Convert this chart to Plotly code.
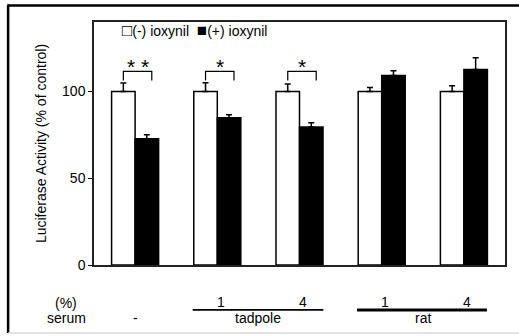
import plotly.graph_objects as go

# ---- data ----
groups = [0, 1, 2, 3, 4]
neg_name = "(-) ioxynil"
pos_name = "(+) ioxynil"
neg_values = [100, 100, 100, 100, 100]
neg_err = [4.8, 5.0, 4.3, 2.3, 3.3]
pos_values = [72.7, 84.8, 79.5, 109.2, 112.7]
pos_err = [2.3, 1.8, 2.4, 2.7, 6.7]
y_ticks = [0, 50, 100]
sig_groups = [0, 1, 2]
sig_labels = ["* *", "*", "*"]
pct_labels = ["", "1", "4", "1", "4"]
serum_labels = ["-", "tadpole", "rat"]
serum_label_pos = [0, 1.5, 3.5]

FONT = "Liberation Sans, Arial, sans-serif"
BW = 0.286  # bar width in category units
off = BW / 2

fig = go.Figure()
fig.add_trace(go.Bar(
    x=groups, y=neg_values, name=neg_name,
    marker=dict(color="white", line=dict(color="black", width=1.5)),
    error_y=dict(type="data", array=neg_err, arrayminus=[0]*5, symmetric=False,
                 color="black", thickness=1.5, width=3),
))
fig.add_trace(go.Bar(
    x=groups, y=pos_values, name=pos_name,
    marker=dict(color="black", line=dict(color="black", width=1.5)),
    error_y=dict(type="data", array=pos_err, arrayminus=[0]*5, symmetric=False,
                 color="black", thickness=1.5, width=3),
))

shapes = []
annotations = []

def txt(x, y, text, xref="paper", yref="paper", size=14, xanchor="center", yanchor="middle", yshift=0):
    annotations.append(dict(x=x, y=y, xref=xref, yref=yref, text=text, showarrow=False,
                            xanchor=xanchor, yanchor=yanchor, yshift=yshift,
                            font=dict(family=FONT, size=size, color="black")))

# significance brackets
for g, lab in zip(sig_groups, sig_labels):
    x0 = g - off
    x1 = g + off + 0.06
    shapes.append(dict(type="path", xref="x", yref="y",
                       path=f"M {x0} 106.3 L {x0} 111.5 L {x1} 111.5 L {x1} 106.3",
                       line=dict(color="black", width=1.2)))
    txt((x0 + x1) / 2, 111.5, lab, xref="x", yref="y", size=21, yanchor="bottom", yshift=-9)

# legend as text
sq = "<span style='font-size:17px'>{}</span>"
txt(0.063, 0.967, f"{sq.format('□')}{neg_name}  {sq.format('■')}{pos_name}", xanchor="left")

# bottom labels
txt(-0.068, -0.156, "(%)")
txt(-0.068, -0.218, "serum")
for g, lab in zip(groups, pct_labels):
    if lab:
        txt(g + 0.04, -0.154, lab, xref="x")
for xp, lab in zip(serum_label_pos, serum_labels):
    txt(xp, -0.218, lab, xref="x")

# group underlines
shapes.append(dict(type="line", xref="x", yref="paper", x0=0.70, x1=2.29, y0=-0.185, y1=-0.185,
                   line=dict(color="black", width=1.8)))
shapes.append(dict(type="line", xref="x", yref="paper", x0=2.70, x1=4.28, y0=-0.185, y1=-0.185,
                   line=dict(color="black", width=3)))

# outer image border
shapes.append(dict(type="line", xref="paper", yref="paper", x0=-0.209, x1=1.04, y0=1.068, y1=1.068,
                   line=dict(color="black", width=2.5)))
shapes.append(dict(type="line", xref="paper", yref="paper", x0=-0.209, x1=-0.209, y0=1.072, y1=-0.28,
                   line=dict(color="black", width=2.5)))
shapes.append(dict(type="line", xref="paper", yref="paper", x0=-0.209, x1=1.04, y0=-0.280, y1=-0.280,
                   line=dict(color="#d8d8d8", width=1.5)))

fig.update_layout(
    width=519, height=336,
    margin=dict(l=94, r=14, t=22, b=71),
    paper_bgcolor="white", plot_bgcolor="white",
    barmode="group", bargap=1 - 2 * BW, bargroupgap=0,
    showlegend=False,
    font=dict(family=FONT, size=14, color="black"),
    shapes=shapes, annotations=annotations,
    xaxis=dict(range=[-0.5, 4.5], showticklabels=False, ticks="", showgrid=False,
               zeroline=False, showline=True, linecolor="#222", linewidth=1.5, mirror=True),
    yaxis=dict(range=[0, 140], tickvals=y_ticks, ticks="outside", ticklen=4, tickwidth=1.2,
               tickcolor="black", showgrid=False, zeroline=False, showline=True,
               linecolor="#222", linewidth=1.5, mirror=True,
               tickfont=dict(family=FONT, size=14, color="black"),
               title=dict(text="Luciferase Activity (% of control)", standoff=12,
                          font=dict(family=FONT, size=14, color="black"))),
)

fig.write_html("out.html", config={"displayModeBar": False},
               post_script="document.body.style.margin='0';")
